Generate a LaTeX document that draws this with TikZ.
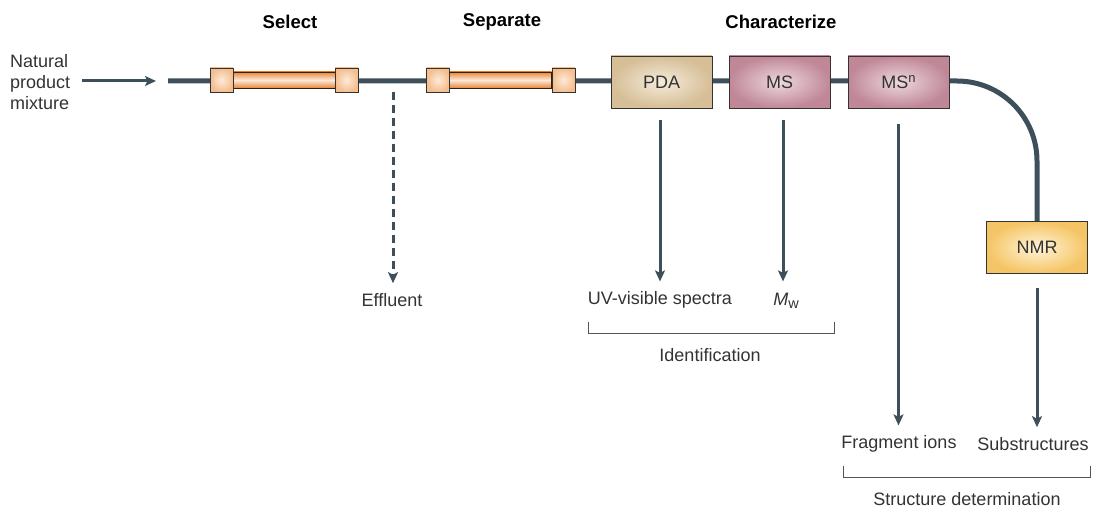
\documentclass[tikz,border=0pt]{standalone}
\usepackage{fontspec}
\setmainfont{Liberation Sans}
\usetikzlibrary{arrows.meta}
\definecolor{pipe}{HTML}{3D4F5A}
\definecolor{ink}{HTML}{333333}
\definecolor{tubeedge}{HTML}{E8853A}
\definecolor{tubemid}{HTML}{FDE9D8}
\definecolor{sqin}{HTML}{FDEADB}
\definecolor{sqout}{HTML}{F4BE8E}
\definecolor{pdain}{HTML}{F5EBDA}
\definecolor{pdaout}{HTML}{D6BE96}
\definecolor{msin}{HTML}{EDD8DE}
\definecolor{msout}{HTML}{C08797}
\definecolor{nmrin}{HTML}{FFF4D8}
\definecolor{nmrout}{HTML}{F5C565}
\definecolor{bracket}{HTML}{555555}
\pgfdeclarelayer{background}
\pgfsetlayers{background,main}
\tikzset{
  lbl/.style={text=ink, font=\fontsize{18}{21}\selectfont, inner sep=0pt},
  hdr/.style={text=black, font=\fontsize{18.5}{22}\selectfont\bfseries, inner sep=0pt},
  mainline/.style={draw=pipe, line width=5pt},
  arr/.style={draw=pipe, line width=3pt, -{Stealth[length=11pt,width=10pt,inset=2.5pt]}},
  dasharr/.style={arr, dash pattern=on 8pt off 5pt},
  sq/.style={draw=black!80, line width=0.8pt, shade, inner color=sqin, outer color=sqout,
    minimum width=23pt, minimum height=24pt, inner sep=0pt},
  tube/.style={draw=black!75!brown, line width=0.7pt, shade, top color=tubeedge,
    bottom color=tubeedge, middle color=tubemid, minimum width=102pt, minimum height=16pt, inner sep=0pt},
  instbox/.style={draw=black!80, line width=0.9pt, shade, minimum width=101pt, minimum height=52pt,
    inner sep=0pt, text=ink, font=\fontsize{18}{21}\selectfont},
  pdabox/.style={instbox, inner color=pdain, outer color=pdaout},
  msbox/.style={instbox, inner color=msin, outer color=msout},
  nmrbox/.style={instbox, inner color=nmrin, outer color=nmrout},
  brk/.style={draw=bracket, line width=0.9pt}
}
\begin{document}
\begin{tikzpicture}[x=1pt,y=-1pt]
\useasboundingbox (0,0) rectangle (1093,508);

% column headings
\node[hdr] (hsel) at (290,22) {Select};
\node[hdr] (hsep) at (502,22) {Separate};
\node[hdr] (hchar) at (781,22) {Characterize};

% sample input
\node[lbl, align=left, anchor=west] (mix) at (10,82) {Natural\\product\\mixture};
\coordinate (lineStart) at (168,81);

% instrument boxes
\node[pdabox] (pda) at (661.5,82) {PDA};
\node[msbox] (ms) at (779.5,82) {MS};
\node[msbox] (msn) at (898.5,82) {MS\raisebox{0.55ex}{\fontsize{13}{13}\selectfont n}};
\node[nmrbox] (nmr) at (1037,247.5) {NMR};

% selection column
\node[tube] (tubeA) at (284,80) {};
\node[sq] (sqA1) at (221.5,80) {};
\node[sq] (sqA2) at (346.5,80) {};
% separation column
\node[tube] (tubeB) at (500.5,80) {};
\node[sq] (sqB1) at (438,80) {};
\node[sq] (sqB2) at (563.5,80) {};

% main flow line behind the columns and boxes, bending down to the NMR
\begin{pgfonlayer}{background}
\draw[mainline, rounded corners=80pt] (lineStart) -- (nmr.north |- lineStart) -- (nmr.north);
\end{pgfonlayer}

% input arrow
\draw[arr, shorten <=12pt, shorten >=12pt] (mix.east |- lineStart) -- (lineStart);

% outputs
\node[lbl] (eff) at (392,300) {Effluent};
\node[lbl] (uv) at (660,300) {UV-visible spectra};
\node[lbl] (mw) at (786,301) {\textit{M}\raisebox{-0.35ex}{\fontsize{14.5}{15}\selectfont w}};
\node[lbl] (frag) at (899,444) {Fragment ions};
\node[lbl] (sub) at (1033,444) {Substructures};
\node[lbl] (ident) at (710,355) {Identification};
\node[lbl] (struct) at (967,499) {Structure determination};

\coordinate (effTop) at (393,92);
\draw[dasharr, shorten >=10pt] (effTop) -- (effTop |- eff.north);
\draw[arr, shorten <=12pt, shorten >=10pt] (pda.south -| uv.north) -- (uv.north);
\draw[arr, shorten <=12pt, shorten >=10pt] (ms.south -| mw.north) ++(-3,0) coordinate (msOut) (msOut) -- (msOut |- uv.north);
\draw[arr, shorten <=16pt, shorten >=10pt] (msn.south) -- (msn.south |- frag.north);
\draw[arr, shorten <=14pt, shorten >=10pt] (nmr.south) -- (nmr.south |- sub.north);

% brackets
\draw[brk] (588,322) -- (588,333) -- (834,333) -- (834,322);
\draw[brk] (843,466) -- (843,477) -- (1090,477) -- (1090,466);
\end{tikzpicture}
\end{document}
